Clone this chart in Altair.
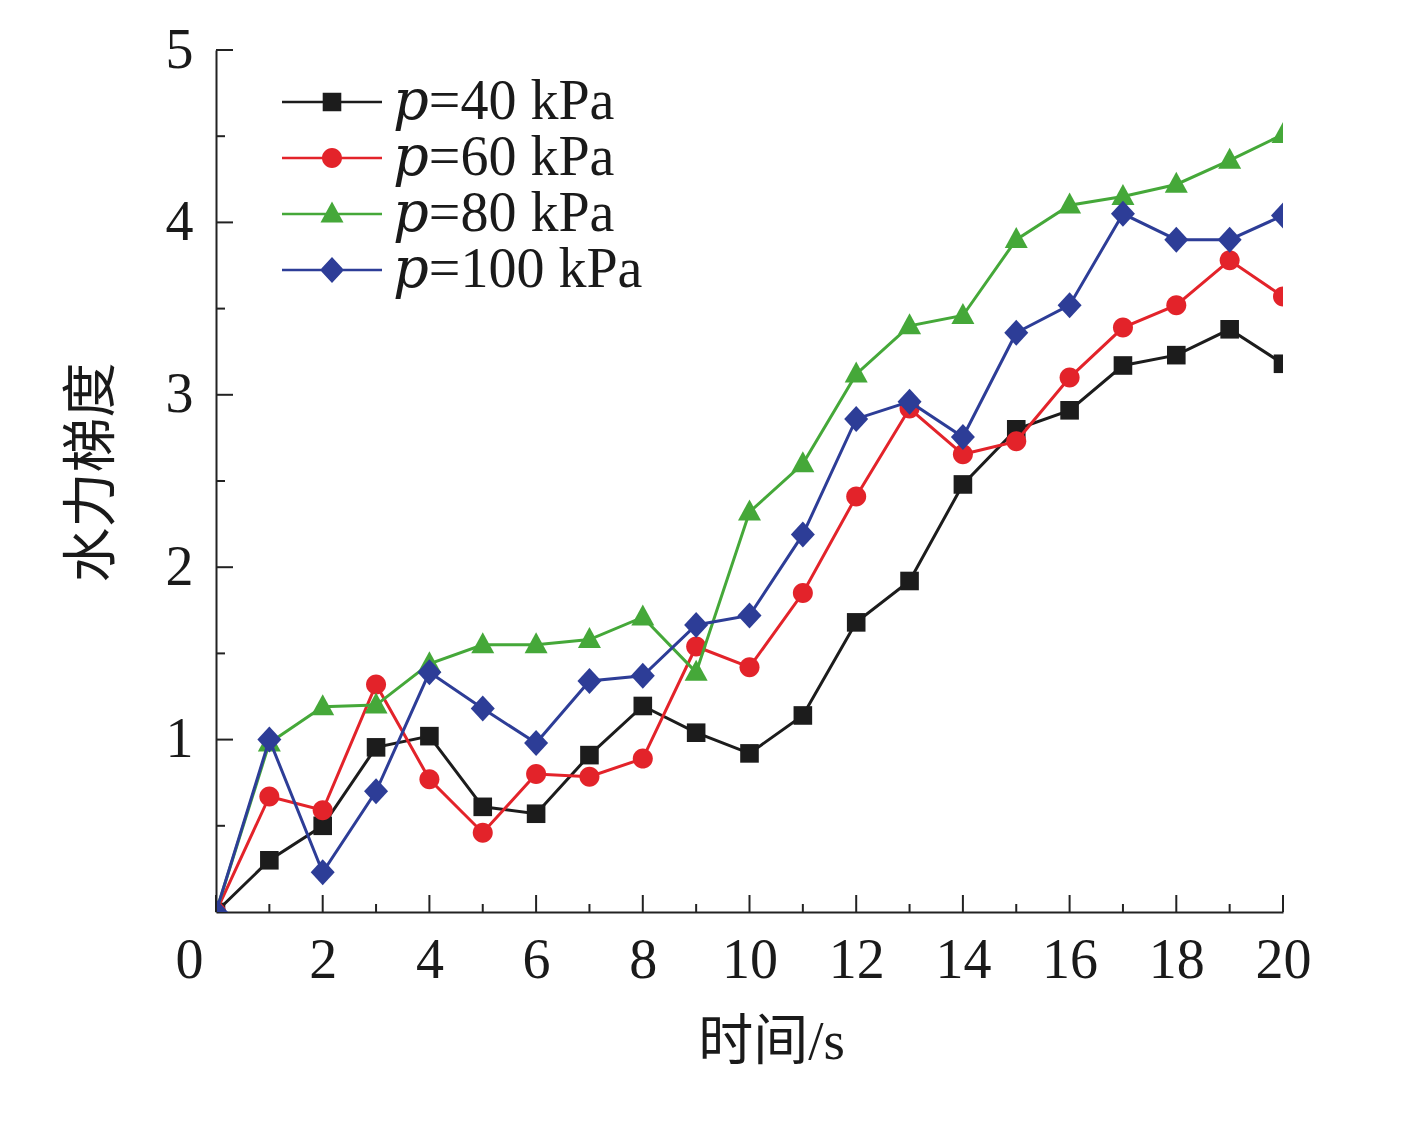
import altair as alt
import pandas as pd

# time (s) and hydraulic gradient per confining pressure
time_s = list(range(21))
p40 = [0, 0.30, 0.50, 0.955, 1.02, 0.61, 0.57, 0.91, 1.195, 1.04, 0.92,
       1.14, 1.68, 1.92, 2.48, 2.80, 2.91, 3.17, 3.23, 3.38, 3.18]
p60 = [0, 0.67, 0.59, 1.32, 0.77, 0.46, 0.80, 0.785, 0.89, 1.54, 1.42,
       1.85, 2.41, 2.92, 2.655, 2.73, 3.10, 3.39, 3.52, 3.78, 3.57]
p80 = [0, 0.98, 1.19, 1.20, 1.44, 1.55, 1.55, 1.58, 1.71, 1.39, 2.32,
       2.60, 3.12, 3.40, 3.46, 3.90, 4.10, 4.15, 4.22, 4.36, 4.51]
p100 = [0, 1.00, 0.23, 0.70, 1.39, 1.18, 0.98, 1.34, 1.37, 1.665, 1.72,
        2.19, 2.86, 2.96, 2.755, 3.36, 3.52, 4.05, 3.90, 3.90, 4.04]

series = ["\U0001D45D=40 kPa", "\U0001D45D=60 kPa", "\U0001D45D=80 kPa", "\U0001D45D=100 kPa"]
values = [p40, p60, p80, p100]
colors = ["#1c1c1c", "#e3232a", "#45a839", "#2d3d97"]

x_labels = [0, 2, 4, 6, 8, 10, 12, 14, 16, 18, 20]
x_minor = [1, 3, 5, 7, 9, 11, 13, 15, 17, 19]
y_labels = [1, 2, 3, 4, 5]
y_minor = [0.5, 1.5, 2.5, 3.5, 4.5]

# marker outlines, all drawn clockwise (unit = half of sqrt(size))
markers = [
    "M-0.93,-0.93H0.93V0.93H-0.93Z",
    "M-1,0A1,1 0 1,1 1,0A1,1 0 1,1 -1,0Z",
    "M0,-1.26L1.15,0.84L-1.15,0.84Z",
    "M0,-1.3L1.2,0L0,1.3L-1.2,0Z",
]
# legend symbol = thin filled bar + marker
legend_symbols = ["M-5,-0.13H5V0.13H-5Z" + m for m in markers]

W, H = 1067, 862
SERIF = "Liberation Serif, DejaVu Serif, Noto Sans CJK SC"
INK = "#1a1a1a"

rows = []
for s, vals in zip(series, values):
    for t, v in zip(time_s, vals):
        rows.append({"time": t, "grad": v, "series": s})
df = pd.DataFrame(rows)

x_scale = alt.Scale(domain=[0, 20], nice=False, zero=False)
y_scale = alt.Scale(domain=[0, 5], nice=False)
color_scale = alt.Scale(domain=series, range=colors)

x_enc = alt.X("time:Q", scale=x_scale, title="时间/s",
              axis=alt.Axis(values=x_labels, ticks=False, tickSize=0, grid=False,
                            labelPadding=21, labelFlush=False,
                            labelOffset={"condition": {"test": "datum.value == 0", "value": -27}, "value": 0},
                            titleX=555, titleY=146, titleBaseline="alphabetic"))
y_enc = alt.Y("grad:Q", scale=y_scale, title="水力梯度",
              axis=alt.Axis(values=y_labels, ticks=False, tickSize=0, grid=False,
                            labelPadding=23, labelFlush=False,
                            titleX=-108, titleY=422, titleBaseline="alphabetic"))

layers = []
for s, c, m in zip(series, colors, markers):
    base = alt.Chart(df).transform_filter(alt.datum.series == s)
    layers.append(base.mark_line(color=c, strokeWidth=3, clip=True).encode(x=x_enc, y=y_enc))
    layers.append(base.mark_point(shape=m, size=400, filled=True, fill=c, opacity=1,
                                  strokeWidth=0, clip=True).encode(x=x_enc, y=y_enc))

# legend carrier: no rows drawn, the legend comes from the fixed scale domains
legend = alt.Legend(title=None, orient="none", legendX=88, legendY=24, padding=0,
                    symbolSize=400, symbolStrokeWidth=0, symbolOpacity=1, labelOffset=33,
                    labelFont=SERIF, labelFontSize=56, labelColor=INK,
                    rowPadding=0, labelLimit=400)
legend_layer = alt.Chart(df).transform_filter("datum.time < 0").mark_point(
    filled=True, opacity=1, size=400, strokeWidth=0
).encode(
    x=x_enc, y=y_enc,
    color=alt.Color("series:N", scale=color_scale, legend=legend),
    shape=alt.Shape("series:N", scale=alt.Scale(domain=series, range=legend_symbols), legend=legend),
)

# inward ticks
tick_color = "#222222"
x_major_ticks = alt.Chart(pd.DataFrame({"time": x_labels})).mark_rule(color=tick_color, strokeWidth=2).encode(
    x=x_enc, y=alt.value(H), y2=alt.value(H - 17))
x_minor_ticks = alt.Chart(pd.DataFrame({"time": x_minor})).mark_rule(color=tick_color, strokeWidth=2).encode(
    x=x_enc, y=alt.value(H), y2=alt.value(H - 8))
y_major_ticks = alt.Chart(pd.DataFrame({"grad": y_labels})).mark_rule(color=tick_color, strokeWidth=2).encode(
    y=y_enc, x=alt.value(0), x2=alt.value(17))
y_minor_ticks = alt.Chart(pd.DataFrame({"grad": y_minor})).mark_rule(color=tick_color, strokeWidth=2).encode(
    y=y_enc, x=alt.value(0), x2=alt.value(9))

chart = alt.layer(
    *layers, legend_layer, x_major_ticks, x_minor_ticks, y_major_ticks, y_minor_ticks
).properties(
    width=W, height=H,
    autosize=alt.AutoSizeParams(type="none"),
    padding={"left": 208, "top": 42, "right": 60, "bottom": 170},
    background="white",
).configure_view(
    stroke=None
).configure_axis(
    domainColor=tick_color, domainWidth=2,
    labelFont=SERIF, labelFontSize=56, labelColor=INK,
    titleFont=SERIF, titleFontSize=55, titleFontWeight="normal", titleColor=INK,
)

chart.save("out.html", embed_options={"renderer": "svg", "actions": False})
